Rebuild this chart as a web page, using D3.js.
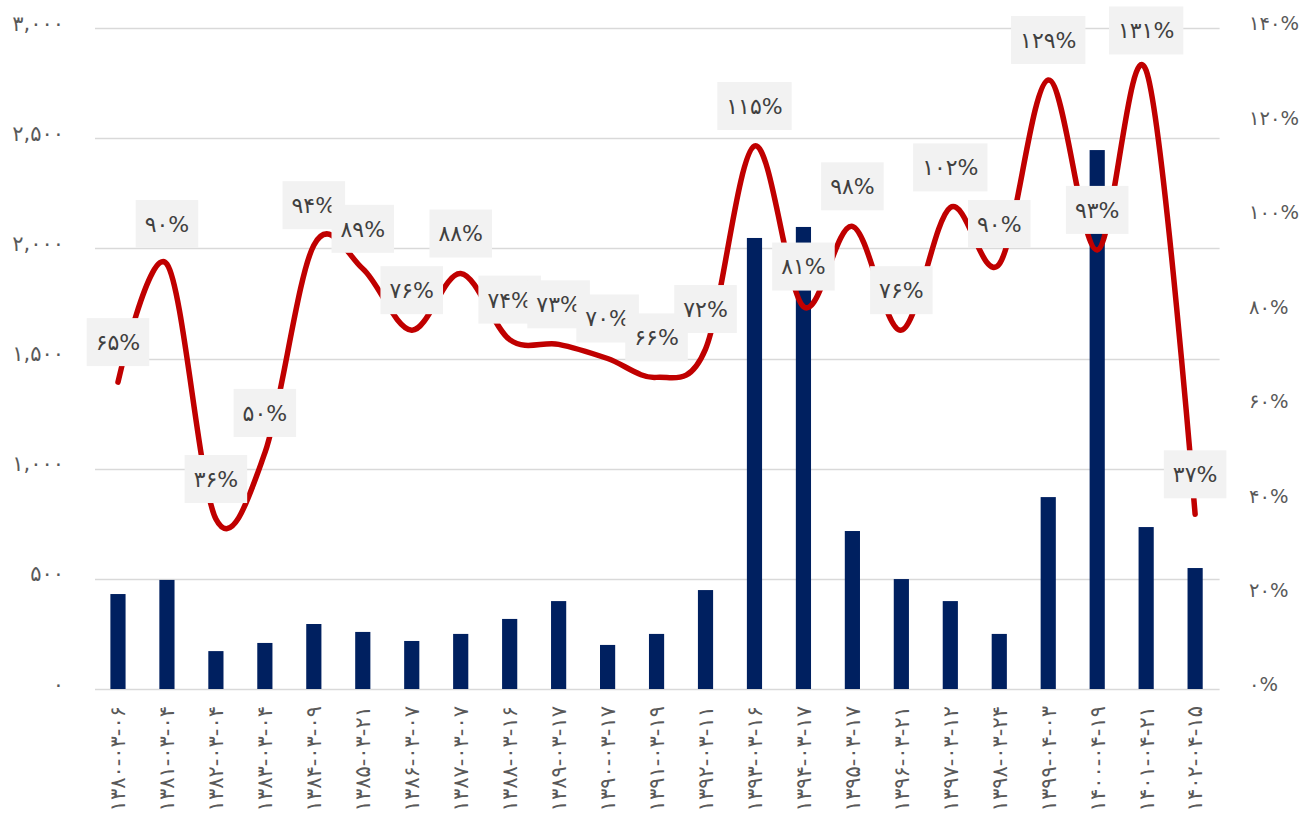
<!DOCTYPE html>
<html>
<head>
<meta charset="utf-8">
<script src="https://cdn.jsdelivr.net/npm/d3@7"></script>
<style>
  html, body { margin: 0; padding: 0; background: #ffffff; }
  svg { display: block; font-family: "DejaVu Sans", sans-serif; }
</style>
</head>
<body>
<svg id="chart" width="1312" height="827"></svg>
<script>
// Dates (Persian calendar), one per bar
const categories = [
  "۱۳۸۰-۰۳-۰۶", "۱۳۸۱-۰۳-۰۴", "۱۳۸۲-۰۳-۰۴", "۱۳۸۳-۰۳-۰۴", "۱۳۸۴-۰۳-۰۹",
  "۱۳۸۵-۰۳-۲۱", "۱۳۸۶-۰۳-۰۷", "۱۳۸۷-۰۳-۰۷", "۱۳۸۸-۰۳-۱۶", "۱۳۸۹-۰۳-۱۷",
  "۱۳۹۰-۰۳-۱۷", "۱۳۹۱-۰۳-۱۹", "۱۳۹۲-۰۳-۱۱", "۱۳۹۳-۰۳-۱۶", "۱۳۹۴-۰۳-۱۷",
  "۱۳۹۵-۰۳-۱۷", "۱۳۹۶-۰۳-۲۱", "۱۳۹۷-۰۳-۱۲", "۱۳۹۸-۰۳-۲۴", "۱۳۹۹-۰۴-۰۳",
  "۱۴۰۰-۰۴-۱۹", "۱۴۰۱-۰۴-۲۱", "۱۴۰۲-۰۴-۱۵"
];

// Bar series (left axis)
const barValues = [
  431, 495, 172, 209, 295, 259, 218, 250, 318, 399,
  200, 250, 449, 2047, 2097, 717, 499, 399, 250, 871,
  2446, 735, 549
];

// Line series in percent (right axis)
const lineValues = [
  65, 90, 36, 50, 94, 89, 76, 88, 74, 73,
  70, 66, 72, 115, 81, 98, 76, 102, 90, 129,
  93, 131, 37
];

// Axis ticks
const leftTicks = [0, 500, 1000, 1500, 2000, 2500, 3000];
const rightTicks = [0, 20, 40, 60, 80, 100, 120, 140];

const faDigits = "۰۱۲۳۴۵۶۷۸۹";
const toFa = s => String(s).replace(/[0-9]/g, d => faDigits[+d]);

const svg = d3.select("#chart");
const plot = { left: 93.5, right: 1219.6, top: 28, bottom: 689 };

const x = d3.scaleBand()
  .domain(categories)
  .range([plot.left, plot.right])
  .paddingInner(0.69)
  .paddingOuter(0.345);

const yLeft = d3.scaleLinear().domain([0, 3000]).range([plot.bottom, plot.top]);
const yRight = d3.scaleLinear().domain([0, 140]).range([plot.bottom, plot.top]);

const cx = c => x(c) + x.bandwidth() / 2;

// Horizontal gridlines
svg.append("g")
  .selectAll("line")
  .data(leftTicks)
  .join("line")
  .attr("x1", 95)
  .attr("x2", plot.right)
  .attr("y1", d => Math.round(yLeft(d)) + 0.5)
  .attr("y2", d => Math.round(yLeft(d)) + 0.5)
  .attr("stroke", "#d9d9d9")
  .attr("stroke-width", 1.5);

// Left axis
const leftAxis = d3.axisLeft(yLeft)
  .tickValues(leftTicks)
  .tickSize(0)
  .tickPadding(0)
  .tickFormat(d => toFa(d3.format(",")(d)));

const gLeft = svg.append("g")
  .attr("transform", "translate(64,0)")
  .call(leftAxis);
gLeft.select(".domain").remove();
gLeft.selectAll("text")
  .attr("fill", "#595959")
  .attr("font-size", 21)
  .attr("font-family", "DejaVu Sans")
  .attr("dy", "0.1em");

// Right axis
const rightAxis = d3.axisRight(yRight)
  .tickValues(rightTicks)
  .tickSize(0)
  .tickPadding(0)
  .tickFormat(d => toFa(d) + "%");

const gRight = svg.append("g")
  .attr("transform", "translate(1249,0)")
  .call(rightAxis);
gRight.select(".domain").remove();
gRight.selectAll("text")
  .attr("fill", "#595959")
  .attr("font-size", 19.5)
  .attr("font-family", "DejaVu Sans")
  .attr("dy", "0.1em");

// Bars
svg.append("g")
  .selectAll("rect")
  .data(categories)
  .join("rect")
  .attr("x", d => x(d))
  .attr("width", x.bandwidth())
  .attr("y", (d, i) => yLeft(barValues[i]))
  .attr("height", (d, i) => plot.bottom - yLeft(barValues[i]))
  .attr("fill", "#002060");

// Category labels, rotated
const xAxis = d3.axisBottom(x).tickSize(0).tickPadding(0);
const gX = svg.append("g")
  .attr("transform", `translate(0,${plot.bottom})`)
  .call(xAxis);
gX.select(".domain").remove();
gX.selectAll("text")
  .attr("fill", "#595959")
  .attr("font-size", 21)
  .attr("font-family", "DejaVu Sans")
  .attr("text-anchor", "end")
  .attr("transform", "translate(0,17) rotate(-90)")
  .attr("x", 0)
  .attr("y", 0)
  .attr("dy", "0.35em");

// Smoothed line
const line = d3.line()
  .x((d, i) => cx(categories[i]))
  .y(d => yRight(d))
  .curve(d3.curveCatmullRom.alpha(0));

svg.append("path")
  .datum(lineValues)
  .attr("d", line)
  .attr("fill", "none")
  .attr("stroke", "#c00000")
  .attr("stroke-width", 5.5)
  .attr("stroke-linecap", "round")
  .attr("stroke-linejoin", "round");

// Value labels above each point
const labels = svg.append("g")
  .selectAll("g")
  .data(lineValues)
  .join("g")
  .attr("transform", (d, i) => `translate(${cx(categories[i])},${yRight(d) - 40})`);

labels.append("rect").attr("fill", "#f2f2f2");
labels.append("text")
  .attr("text-anchor", "middle")
  .attr("dy", "0.36em")
  .attr("font-size", 22)
  .attr("font-family", "DejaVu Sans")
  .attr("fill", "#404040")
  .text(d => toFa(d) + "%");

labels.each(function () {
  const g = d3.select(this);
  const w = g.select("text").node().getComputedTextLength() + 18;
  g.select("rect")
    .attr("x", -w / 2)
    .attr("y", -24)
    .attr("width", w)
    .attr("height", 48);
});
</script>
</body>
</html>
